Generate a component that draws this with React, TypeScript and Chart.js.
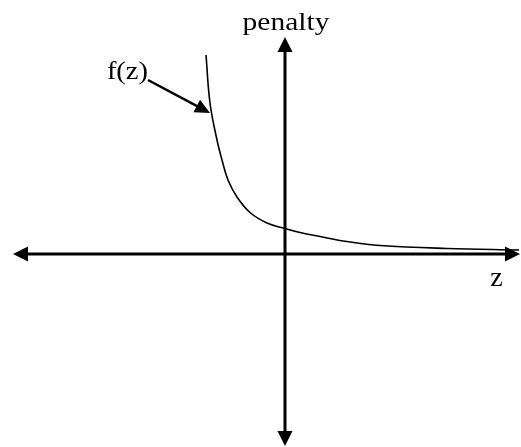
import { useEffect, useRef } from "react";
import { Chart, registerables } from "chart.js";

Chart.register(...registerables);

// ---- data (z units) ----
const zValues = [-1.58, -1.5, -1.36, -1.26, -1.14, -0.96, -0.7, -0.36, 0, 0.3, 0.7, 1.24, 1.9, 3.24, 4.68];
const penaltyValues = [3.98, 3.02, 2.28, 1.88, 1.48, 1.14, 0.83, 0.62, 0.51, 0.43, 0.35, 0.25, 0.17, 0.11, 0.08];

// visible window of the drawing
const zWindow = [-5.7, 4.72];
const penaltyWindow = [-3.86, 5.08];

// extent of the drawn axes (arrow tip to arrow tip)
const zAxisExtent = [-5.44, 4.7];
const penaltyAxisExtent = [-3.84, 4.34];

// pointer from the curve label to the curve
const pointerFrom = [-2.74, 3.48];
const pointerTo = [-1.5, 2.82];

const verticalAxisLabel = "penalty";
const horizontalAxisLabel = "z";
const curveLabel = "f(z)";

const FONT = '"Liberation Serif", "Times New Roman", serif';

function arrowLine(
  ctx: CanvasRenderingContext2D,
  x1: number,
  y1: number,
  x2: number,
  y2: number,
  width: number,
  headLen: number,
  headHalf: number,
  startHead: boolean,
  endHead: boolean
) {
  const ang = Math.atan2(y2 - y1, x2 - x1);
  const c = Math.cos(ang);
  const s = Math.sin(ang);
  let sx = x1, sy = y1, ex = x2, ey = y2;
  if (startHead) {
    sx += c * headLen * 0.8;
    sy += s * headLen * 0.8;
  }
  if (endHead) {
    ex -= c * headLen * 0.8;
    ey -= s * headLen * 0.8;
  }
  ctx.beginPath();
  ctx.moveTo(sx, sy);
  ctx.lineTo(ex, ey);
  ctx.lineWidth = width;
  ctx.lineCap = "butt";
  ctx.stroke();
  const head = (tx: number, ty: number, dc: number, ds: number) => {
    const bx = tx - dc * headLen;
    const by = ty - ds * headLen;
    ctx.beginPath();
    ctx.moveTo(tx, ty);
    ctx.lineTo(bx - ds * headHalf, by + dc * headHalf);
    ctx.lineTo(bx + ds * headHalf, by - dc * headHalf);
    ctx.closePath();
    ctx.fill();
  };
  if (endHead) head(x2, y2, c, s);
  if (startHead) head(x1, y1, -c, -s);
}

function stretchedText(
  ctx: CanvasRenderingContext2D,
  text: string,
  x: number,
  y: number,
  size: number,
  scaleX: number,
  align: CanvasTextAlign
) {
  ctx.save();
  ctx.translate(x, y);
  ctx.scale(scaleX, 1);
  ctx.font = `${size}px ${FONT}`;
  ctx.textAlign = align;
  ctx.textBaseline = "alphabetic";
  ctx.fillText(text, 0, 0);
  ctx.restore();
}

const sketchPlugin = {
  id: "sketchAxes",
  beforeDatasetsDraw(chart: any) {
    const { ctx, scales } = chart;
    const xs = scales.x;
    const ys = scales.y;
    ctx.save();
    ctx.strokeStyle = "#000";
    ctx.fillStyle = "#000";
    const y0 = ys.getPixelForValue(0);
    const x0 = xs.getPixelForValue(0);
    arrowLine(ctx, xs.getPixelForValue(zAxisExtent[0]), y0, xs.getPixelForValue(zAxisExtent[1]), y0, 3, 15, 7.5, true, true);
    arrowLine(ctx, x0, ys.getPixelForValue(penaltyAxisExtent[0]), x0, ys.getPixelForValue(penaltyAxisExtent[1]), 3, 15, 7.5, true, true);
    ctx.restore();
  },
  afterDatasetsDraw(chart: any) {
    const { ctx, scales } = chart;
    const xs = scales.x;
    const ys = scales.y;
    ctx.save();
    ctx.strokeStyle = "#000";
    ctx.fillStyle = "#000";
    const x0 = xs.getPixelForValue(0);
    const y0 = ys.getPixelForValue(0);
    // pointer
    const fx = xs.getPixelForValue(pointerFrom[0]);
    const fy = ys.getPixelForValue(pointerFrom[1]);
    arrowLine(ctx, fx, fy, xs.getPixelForValue(pointerTo[0]), ys.getPixelForValue(pointerTo[1]), 2.5, 15, 7, false, true);
    // labels
    stretchedText(ctx, verticalAxisLabel, x0 + 1, ys.getPixelForValue(penaltyAxisExtent[1]) - 7, 25, 1.18, "center");
    stretchedText(ctx, curveLabel, fx, fy - 1, 25, 1.14, "right");
    stretchedText(ctx, horizontalAxisLabel, xs.getPixelForValue(4.23), y0 + 32, 28, 1.0, "center");
    ctx.restore();
  },
};

export default function App() {
  const ref = useRef<HTMLCanvasElement | null>(null);
  useEffect(() => {
    if (!ref.current) return;
    const chart = new Chart(ref.current, {
      type: "scatter",
      data: {
        datasets: [
          {
            data: zValues.map((z, i) => ({ x: z, y: penaltyValues[i] })),
            showLine: true,
            borderColor: "#000",
            borderWidth: 1.6,
            pointRadius: 0,
            fill: false,
            tension: 0.4,
          },
        ],
      },
      options: {
        animation: false,
        responsive: false,
        devicePixelRatio: 1,
        layout: { padding: 0 },
        plugins: { legend: { display: false }, tooltip: { enabled: false } },
        events: [],
        scales: {
          x: { type: "linear", min: zWindow[0], max: zWindow[1], display: false },
          y: { type: "linear", min: penaltyWindow[0], max: penaltyWindow[1], display: false },
        },
      },
      plugins: [sketchPlugin],
    });
    return () => chart.destroy();
  }, []);
  return (
    <div style={{ position: "fixed", left: 0, top: 0, width: 521, height: 447, background: "#fff" }}>
      <canvas ref={ref} width={521} height={447} style={{ display: "block" }} />
    </div>
  );
}
